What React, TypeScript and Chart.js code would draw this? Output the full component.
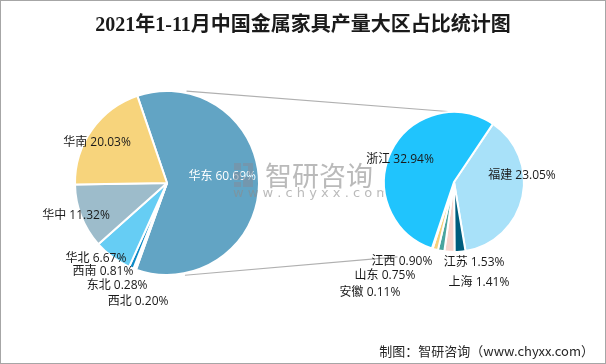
import React, { useEffect, useRef } from "react";
import { Chart, registerables } from "chart.js";

Chart.register(...registerables);

// ---------- data ----------
const titleText = "2021年1-11月中国金属家具产量大区占比统计图";
const sourceText = "制图：智研咨询（www.chyxx.com）";
const watermarkText = "智研咨询";
const watermarkUrl = "w w w . c h y x x . c o m";

const regionLabels = ["华东", "西北", "东北", "西南", "华北", "华中", "华南"];
const regionValues = [60.69, 0.2, 0.28, 0.81, 6.67, 11.32, 20.03];

const provinceLabels = ["福建", "江苏", "上海", "江西", "山东", "安徽", "浙江"];
const provinceValues = [23.05, 1.53, 1.41, 0.9, 0.75, 0.11, 32.94];

// ---------- styles / layout ----------
const regionColors = ["#62a4c4", "#d9d9d9", "#a9d5ea", "#0d8ac6", "#66cdf4", "#9dbccb", "#f7d47c"];
const provinceColors = ["#a8e1f9", "#005d7d", "#f8d4cd", "#4aa59f", "#f7d27c", "#bfbfbf", "#20c4fd"];

// label anchors, relative to pie centre, in units of the pie radius
const regionLabelPos = [
  [0.6, -0.065],
  [-0.315, 1.293],
  [-0.543, 1.12],
  [-0.696, 0.967],
  [-0.772, 0.826],
  [-0.989, 0.359],
  [-0.761, -0.435],
];
const provinceLabelPos = [
  [0.971, -0.086],
  [0.286, 1.157],
  [0.357, 1.443],
  [-0.743, 1.143],
  [-0.986, 1.343],
  [-1.2, 1.586],
  [-0.771, -0.314],
];

const W = 606;
const H = 364;
const labelFont = "12px 'Open Sans', 'Noto Sans CJK SC', sans-serif";

function fmt(v: number) {
  return v.toFixed(2) + "%";
}

export default function App() {
  const leftRef = useRef<HTMLCanvasElement | null>(null);
  const rightRef = useRef<HTMLCanvasElement | null>(null);

  useEffect(() => {
    document.body.style.margin = "0";
    if (!leftRef.current || !rightRef.current) return;

    const leftPlugin = {
      id: "leftDecor",
      beforeDraw(chart: any) {
        const ctx = chart.ctx;
        ctx.save();
        ctx.fillStyle = "#ffffff";
        ctx.fillRect(0, 0, W, H);
        ctx.restore();
      },
      afterDraw(chart: any) {
        const ctx = chart.ctx;
        const meta = chart.getDatasetMeta(0);
        const a0 = meta.data[0] as any;
        const cx = a0.x;
        const cy = a0.y;
        const r = a0.outerRadius;
        ctx.save();
        // labels
        ctx.font = labelFont;
        ctx.textAlign = "center";
        ctx.textBaseline = "middle";
        regionLabels.forEach((lab, i) => {
          const p = regionLabelPos[i];
          ctx.fillStyle = i === 0 ? "#ffffff" : "#1a1a1a";
          ctx.fillText(lab + " " + fmt(regionValues[i]), cx + p[0] * r, cy + p[1] * r);
        });
        // watermark
        ctx.globalAlpha = 0.6;
        ctx.fillStyle = "#7f8fa0";
        ctx.fillRect(234, 163, 7, 7);
        ctx.fillRect(243, 163, 10, 3);
        ctx.fillRect(248, 166, 5, 9);
        ctx.fillRect(234, 172, 7, 8);
        ctx.fillRect(243, 177, 10, 10);
        ctx.fillRect(234, 182, 7, 5);
        ctx.fillStyle = "#8c8c8c";
        ctx.font = "27px 'Noto Sans CJK SC', sans-serif";
        ctx.textAlign = "left";
        ctx.fillText(watermarkText, 265, 176);
        ctx.font = "13px 'DejaVu Sans', sans-serif";
        ctx.fillText(watermarkUrl, 233, 194);
        ctx.globalAlpha = 1;
        // title
        ctx.fillStyle = "#1a1a1a";
        ctx.textAlign = "center";
        ctx.font = "bold 20px 'Liberation Serif', 'Noto Sans CJK SC', serif";
        ctx.fillText(titleText, W / 2, 26);
        // source
        ctx.textAlign = "right";
        ctx.font = "13px 'Noto Sans CJK SC', sans-serif";
        ctx.fillStyle = "#262626";
        ctx.fillText(sourceText, 594, 351);
        // frame
        ctx.strokeStyle = "#a6a6a6";
        ctx.lineWidth = 1;
        ctx.strokeRect(0.5, 0.5, W - 1, H - 1);
        ctx.restore();
      },
    };

    const leftChart = new Chart(leftRef.current, {
      type: "pie",
      data: {
        labels: regionLabels,
        datasets: [
          {
            data: regionValues,
            backgroundColor: regionColors,
            borderColor: "#ffffff",
            borderWidth: 2,
          },
        ],
      },
      options: {
        responsive: false,
        animation: false,
        rotation: -18.8,
        layout: { padding: { left: 74, right: 346, top: 90, bottom: 88 } },
        plugins: { legend: { display: false }, tooltip: { enabled: false }, title: { display: false } },
      },
      plugins: [leftPlugin],
    } as any);

    const rightPlugin = {
      id: "rightDecor",
      beforeDatasetsDraw(chart: any) {
        const ctx = chart.ctx;
        const lm = leftChart.getDatasetMeta(0).data[0] as any;
        const rm = chart.getDatasetMeta(0).data[0] as any;
        const lx = lm.x, ly = lm.y, lr = lm.outerRadius + 2;
        const rx = rm.x, ry = rm.y, rr = rm.outerRadius;
        const a1 = (12 * Math.PI) / 180;
        const a2 = (169 * Math.PI) / 180;
        const p1 = [lx + lr * Math.sin(a1), ly - lr * Math.cos(a1)];
        const p2 = [lx + lr * Math.sin(a2), ly - lr * Math.cos(a2)];
        const q1 = [rx, ry - rr];
        const q2full = [rx, ry + rr];
        const t = 0.79;
        const q2 = [p2[0] + (q2full[0] - p2[0]) * t, p2[1] + (q2full[1] - p2[1]) * t];
        ctx.save();
        ctx.strokeStyle = "#b0b0b0";
        ctx.lineWidth = 1.2;
        ctx.beginPath();
        ctx.moveTo(p1[0], p1[1]);
        ctx.lineTo(q1[0], q1[1]);
        ctx.moveTo(p2[0], p2[1]);
        ctx.lineTo(q2[0], q2[1]);
        ctx.stroke();
        ctx.restore();
      },
      afterDraw(chart: any) {
        const ctx = chart.ctx;
        const a0 = chart.getDatasetMeta(0).data[0] as any;
        const cx = a0.x;
        const cy = a0.y;
        const r = a0.outerRadius;
        ctx.save();
        ctx.font = labelFont;
        ctx.textAlign = "center";
        ctx.textBaseline = "middle";
        ctx.fillStyle = "#1a1a1a";
        provinceLabels.forEach((lab, i) => {
          const p = provinceLabelPos[i];
          ctx.fillText(lab + " " + fmt(provinceValues[i]), cx + p[0] * r, cy + p[1] * r);
        });
        ctx.restore();
      },
    };

    const rightChart = new Chart(rightRef.current, {
      type: "pie",
      data: {
        labels: provinceLabels,
        datasets: [
          {
            data: provinceValues,
            backgroundColor: provinceColors,
            borderColor: "#ffffff",
            borderWidth: 2,
          },
        ],
      },
      options: {
        responsive: false,
        animation: false,
        rotation: 33.8,
        layout: { padding: { left: 383, right: 81, top: 111, bottom: 111 } },
        plugins: { legend: { display: false }, tooltip: { enabled: false }, title: { display: false } },
      },
      plugins: [rightPlugin],
    } as any);

    return () => {
      rightChart.destroy();
      leftChart.destroy();
    };
  }, []);

  return (
    <div style={{ position: "relative", width: W, height: H, margin: 0 }}>
      <canvas ref={leftRef} width={W} height={H} style={{ position: "absolute", left: 0, top: 0 }} />
      <canvas ref={rightRef} width={W} height={H} style={{ position: "absolute", left: 0, top: 0 }} />
    </div>
  );
}
